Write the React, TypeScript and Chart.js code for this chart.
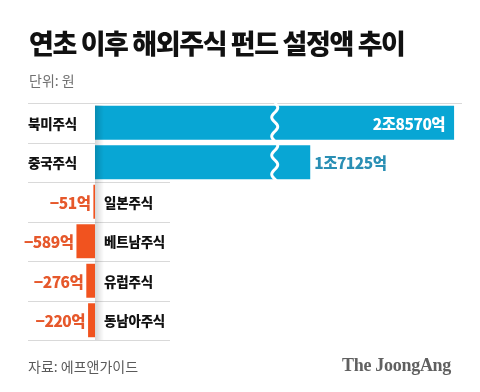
import React, { useEffect, useRef } from "react";
import { Chart, registerables } from "chart.js";

Chart.register(...registerables);

// ---- data (unit: 억원) ----
const categories = ["북미주식", "중국주식", "일본주식", "베트남주식", "유럽주식", "동남아주식"];
const inflows: (number | null)[] = [28570, 17125, null, null, null, null];
const outflows: (number | null)[] = [null, null, -51, -589, -276, -220];

// axis ranges (broken scale: positive side compressed, negative side expanded)
const POS_MIN = -5330;
const POS_MAX = 29200;
const NEG_MIN = -2127;
const NEG_MAX = 11651;
const BREAK_AT = 14300; // where the axis break (wavy cut) is drawn

const TITLE = "연초 이후 해외주식 펀드 설정액 추이";
const UNIT = "단위: 원";
const SOURCE = "자료: 에프앤가이드";
const BRAND = "The JoongAng";

const BLUE = "#08a6d4";
const BLUE_TEXT = "#2a8fb4";
const ORANGE = "#f1531f";
const ORANGE_TEXT = "#e6582b";
const KFONT = '"Noto Sans CJK KR", "Noto Sans", sans-serif';

function fmt(v: number): string {
  if (v < 0) return "\u2212" + Math.abs(v) + "억";
  if (v >= 10000) return Math.floor(v / 10000) + "조" + (v % 10000) + "억";
  return v + "억";
}

const decor = {
  id: "decor",
  beforeDatasetsDraw(chart: any) {
    const { ctx, chartArea } = chart;
    const y = chart.scales.y;
    const zeroX = chart.scales.xPos.getPixelForValue(0);
    const rowH = y.getPixelForValue(1) - y.getPixelForValue(0);
    ctx.save();
    ctx.strokeStyle = "#d9d9d9";
    ctx.lineWidth = 1;
    ctx.beginPath();
    ctx.moveTo(chartArea.left, chartArea.top + 0.5);
    ctx.lineTo(chartArea.right, chartArea.top + 0.5);
    ctx.stroke();
    for (let i = 0; i < categories.length; i++) {
      const yy = Math.round(y.getPixelForValue(i) + rowH / 2) + 0.5;
      const nextIsNeg = i + 1 < categories.length ? inflows[i + 1] == null : true;
      const endX = nextIsNeg ? zeroX + 75 : zeroX;
      ctx.beginPath();
      ctx.moveTo(chartArea.left, yy);
      ctx.lineTo(endX, yy);
      ctx.stroke();
    }
    ctx.restore();
  },
  afterDatasetsDraw(chart: any) {
    const { ctx, chartArea } = chart;
    const y = chart.scales.y;
    const xPos = chart.scales.xPos;
    const zeroX = xPos.getPixelForValue(0);
    const rowH = y.getPixelForValue(1) - y.getPixelForValue(0);
    ctx.save();

    const g = ctx.createLinearGradient(zeroX, 0, zeroX + 9, 0);
    g.addColorStop(0, "rgba(0,0,0,0.16)");
    g.addColorStop(1, "rgba(0,0,0,0)");
    ctx.fillStyle = g;
    ctx.fillRect(zeroX, chartArea.top + 2, 9, chartArea.bottom - chartArea.top - 2);

    const bx = xPos.getPixelForValue(BREAK_AT);
    const yEnd = y.getPixelForValue(1) + rowH / 2;
    ctx.strokeStyle = "#ffffff";
    ctx.lineWidth = 3;
    ctx.beginPath();
    for (let yy = chartArea.top; yy <= yEnd; yy += 1) {
      const xx = bx + 3 * Math.sin(((yy - chartArea.top) / 19) * 2 * Math.PI);
      if (yy === chartArea.top) ctx.moveTo(xx, yy);
      else ctx.lineTo(xx, yy);
    }
    ctx.stroke();

    ctx.textBaseline = "middle";
    ctx.font = `900 13.5px ${KFONT}`;
    ctx.fillStyle = "#111111";
    (ctx as any).letterSpacing = "-0.2px";
    categories.forEach((c, i) => {
      const yy = y.getPixelForValue(i) + 1;
      ctx.textAlign = "left";
      if (inflows[i] != null) ctx.fillText(c, chartArea.left, yy);
      else ctx.fillText(c, zeroX + 9, yy);
    });

    ctx.font = `900 15.5px ${KFONT}`;
    (ctx as any).letterSpacing = "-0.5px";
    const m0 = chart.getDatasetMeta(0);
    const m1 = chart.getDatasetMeta(1);
    inflows.forEach((v, i) => {
      if (v == null) return;
      const el = m0.data[i];
      const txt = fmt(v);
      const w = ctx.measureText(txt).width;
      if (el.x + 4 + w > chartArea.right) {
        ctx.fillStyle = "#ffffff";
        ctx.textAlign = "right";
        ctx.fillText(txt, el.x - 9, el.y + 1);
      } else {
        ctx.fillStyle = BLUE_TEXT;
        ctx.textAlign = "left";
        ctx.fillText(txt, el.x + 4, el.y + 1);
      }
    });
    outflows.forEach((v, i) => {
      if (v == null) return;
      const el = m1.data[i];
      ctx.fillStyle = ORANGE_TEXT;
      ctx.textAlign = "right";
      ctx.fillText(fmt(v), el.x - 3, el.y + 1);
    });
    ctx.restore();
  },
};

export default function App() {
  const ref = useRef<HTMLCanvasElement | null>(null);
  useEffect(() => {
    if (!ref.current) return;
    const chart = new Chart(ref.current, {
      type: "bar",
      data: {
        labels: categories,
        datasets: [
          {
            data: inflows,
            xAxisID: "xPos",
            backgroundColor: BLUE,
            grouped: false,
            barPercentage: 0.86,
            categoryPercentage: 1,
          } as any,
          {
            data: outflows,
            xAxisID: "xNeg",
            backgroundColor: ORANGE,
            grouped: false,
            barPercentage: 0.86,
            categoryPercentage: 1,
          } as any,
        ],
      },
      options: {
        indexAxis: "y",
        animation: false,
        responsive: false,
        events: [],
        layout: { padding: { left: 28, right: 18, top: 103, bottom: 52 } },
        scales: {
          y: { display: false },
          xPos: { type: "linear", axis: "x", display: false, min: POS_MIN, max: POS_MAX },
          xNeg: { type: "linear", axis: "x", display: false, min: NEG_MIN, max: NEG_MAX },
        } as any,
        plugins: { legend: { display: false }, tooltip: { enabled: false }, title: { display: false } },
      },
      plugins: [decor],
    });
    return () => chart.destroy();
  }, []);

  return (
    <div
      style={{
        position: "fixed",
        left: 0,
        top: 0,
        width: 480,
        height: 392,
        background: "#ffffff",
        overflow: "hidden",
        fontFamily: KFONT,
      }}
    >
      <canvas ref={ref} width={480} height={392} style={{ position: "absolute", left: 0, top: 0, width: 480, height: 392 }} />
      <div
        style={{
          position: "absolute",
          left: 29,
          top: 28,
          fontSize: 27,
          lineHeight: "30px",
          fontWeight: 900,
          letterSpacing: "-1.4px",
          color: "#111111",
          whiteSpace: "nowrap",
        }}
      >
        {TITLE}
      </div>
      <div style={{ position: "absolute", left: 29, top: 70, fontSize: 14, lineHeight: "20px", color: "#707070", whiteSpace: "nowrap" }}>
        {UNIT}
      </div>
      <div style={{ position: "absolute", left: 28, top: 356, fontSize: 14, lineHeight: "20px", color: "#5a5a5a", whiteSpace: "nowrap" }}>
        {SOURCE}
      </div>
      <div
        style={{
          position: "absolute",
          right: 29,
          top: 354,
          fontSize: 18,
          lineHeight: "22px",
          fontWeight: 700,
          fontFamily: '"Liberation Serif", "DejaVu Serif", serif',
          color: "#606060",
          whiteSpace: "nowrap",
          letterSpacing: "-0.3px",
        }}
      >
        {BRAND}
      </div>
    </div>
  );
}
